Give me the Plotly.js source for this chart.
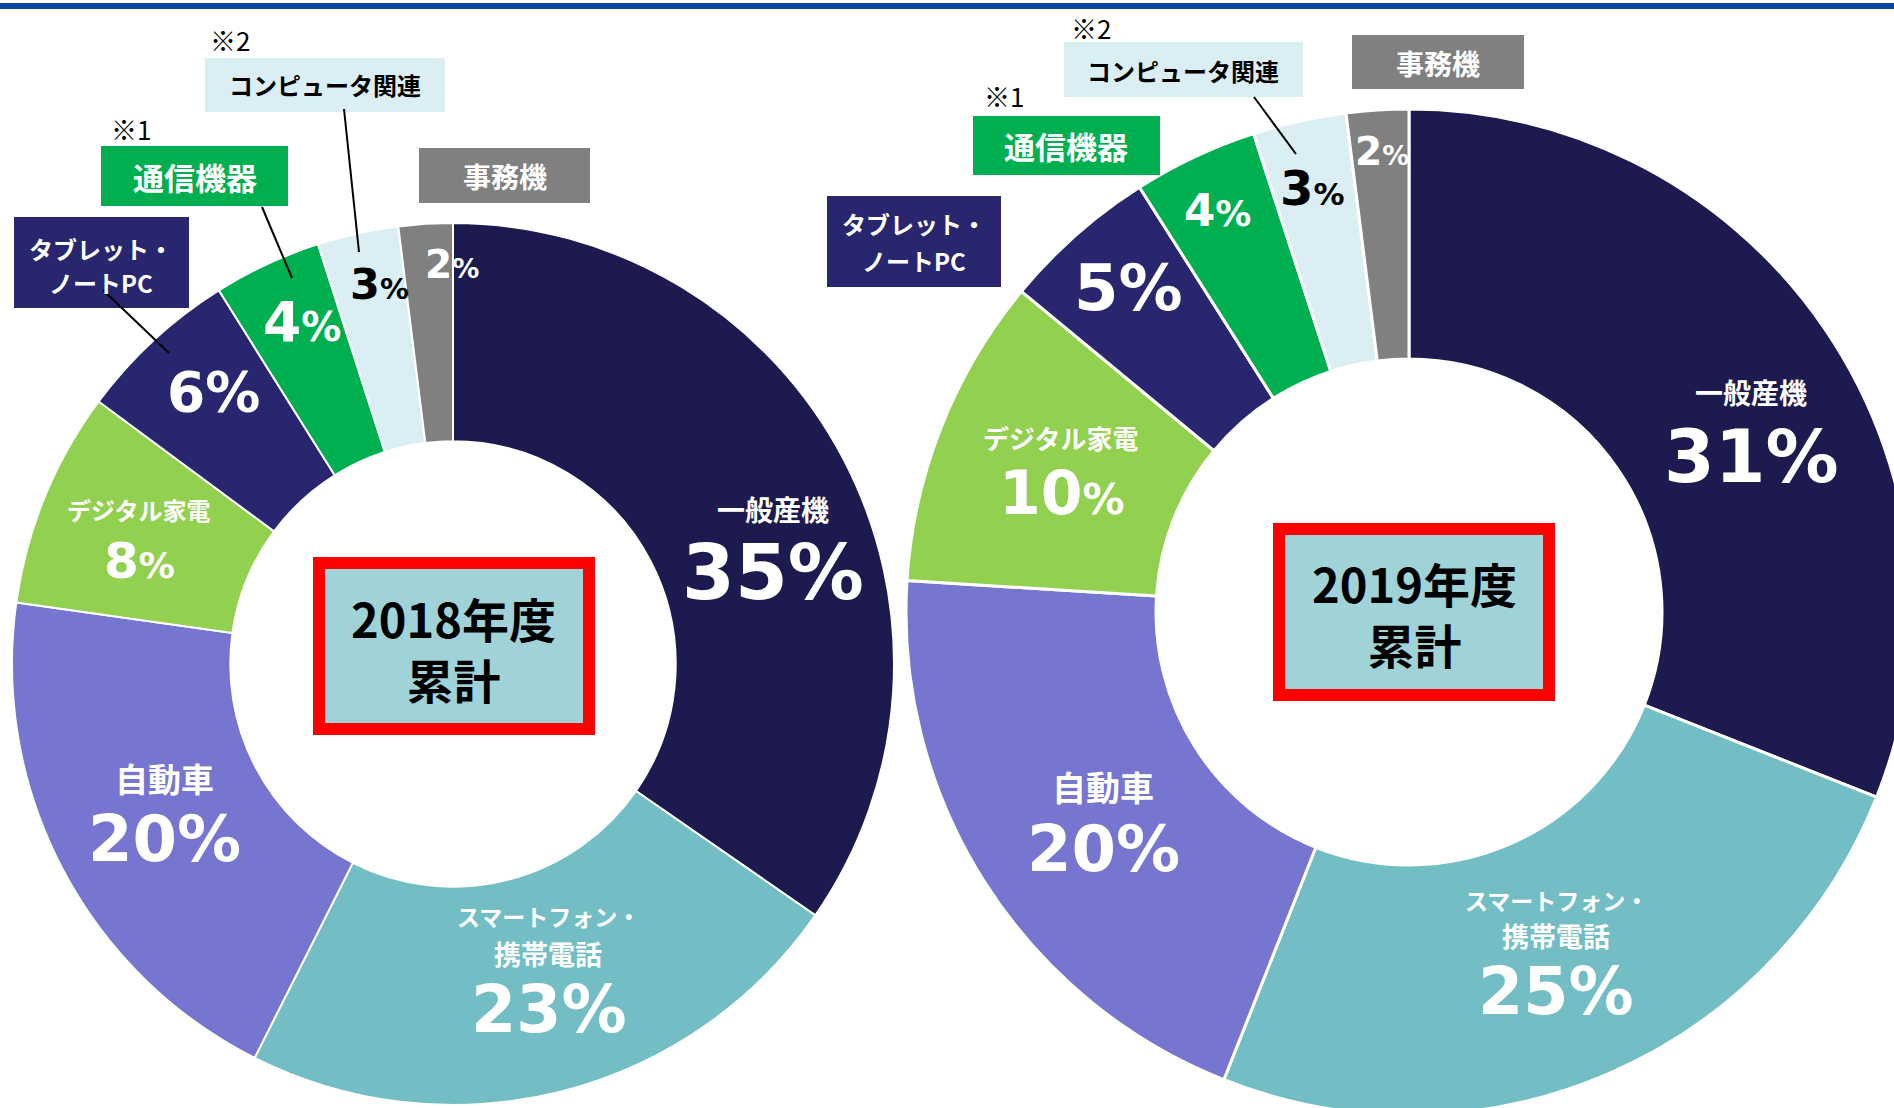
<!DOCTYPE html>
<html><head><meta charset="utf-8">
<script src="https://cdn.plot.ly/plotly-3.0.1.min.js"></script>
<style>html,body{margin:0;padding:0;overflow:hidden;background:#fff;} #chart{width:1920px;height:1120px;}</style>
</head><body><div id="chart"></div>
<script>
// ---- data ----
const categories = ['一般産機','スマートフォン・携帯電話','自動車','デジタル家電','タブレット・ノートPC','通信機器','コンピュータ関連','事務機'];
const values2018 = [35, 23, 20, 8, 6, 4, 3, 2];
const values2019 = [31, 25, 20, 10, 5, 4, 3, 2];
const notes = ['', '', '', '', '', '※1', '※2', ''];
const yearLabels = ['2018年度', '2019年度'];
const totalLabel = '累計';

// ---- style ----
const sliceColors = ['#1c1a4e','#73bec4','#7675cf','#92d050','#28266f','#00b050','#daeef3','#808080'];
const textColors  = ['#fff','#fff','#fff','#fff','#fff','#fff','#000','#fff'];
const W = 1920, H = 1120;
const X = px => px / W, Y = py => 1 - py / H;
const JP = '"Noto Sans CJK JP", "Noto Sans", sans-serif';
const NUM = '"DejaVu Sans", "Noto Sans CJK JP", sans-serif';

// placement (pixels): name lines [x,y,size], pct [x,y,size,pctSize], box [x0,y0,x1,y1], note [x,y], lead [x0,y0,x1,y1]
const charts = [
  { values: values2018, year: yearLabels[0], cx: 453, cy: 664, r: 441, hole: 0.505, lw: 2,
    frame: [319, 563, 589, 729], centerPos: [453, 648, 47],
    place: [
      { name: [[773, 509, 28]], pct: [773, 572, 76, 76] },
      { name: [[548, 916, 23], [548, 953, 27]], pct: [549, 1009, 65, 65] },
      { name: [[164, 778, 33]], pct: [164, 839, 64, 64] },
      { name: [[139, 510, 24]], pct: [139, 561, 50, 36] },
      { pct: [213, 392, 55, 55], box: [14, 217, 189, 308], boxLines: [[101, 248, 24], [101, 282, 24]], lead: [103, 290, 169, 353] },
      { pct: [302, 322, 55, 40], box: [101, 146, 288, 206], boxLines: [[195, 176, 31]], note: [131, 128], lead: [262, 207, 292, 278] },
      { pct: [379, 284, 43, 29], box: [205, 58, 445, 112], boxLines: [[325, 85, 24]], note: [230, 40], lead: [344, 109, 359, 252] },
      { pct: [452, 264, 39, 27], box: [419, 148, 590, 203], boxLines: [[505, 176, 28]] }
    ] },
  { values: values2019, year: yearLabels[1], cx: 1409, cy: 612, r: 503, hole: 0.503, lw: 3,
    frame: [1279, 529, 1549, 695], centerPos: [1414, 613, 47],
    place: [
      { name: [[1751, 392, 28]], pct: [1751, 456, 73, 73] },
      { name: [[1556, 900, 23], [1556, 935, 27]], pct: [1556, 991, 65, 65] },
      { name: [[1103, 787, 34]], pct: [1103, 849, 64, 64] },
      { name: [[1060, 437, 26]], pct: [1062, 493, 60, 42] },
      { pct: [1128, 288, 64, 64], box: [827, 196, 1001, 287], boxLines: [[914, 224, 24], [914, 260, 24]] },
      { pct: [1217, 210, 45, 36], box: [973, 116, 1160, 175], boxLines: [[1066, 146, 31]], note: [1004, 95] },
      { pct: [1312, 188, 48, 31], box: [1064, 42, 1303, 97], boxLines: [[1183, 70, 24]], note: [1091, 27], lead: [1254, 97, 1296, 154] },
      { pct: [1382, 152, 39, 27], box: [1352, 35, 1524, 89], boxLines: [[1438, 63, 28]] }
    ] }
];

function ann(x, y, text, size, color, family, weight) {
  return { xref: 'paper', yref: 'paper', x: X(x), y: Y(y), xanchor: 'center', yanchor: 'middle',
           text: text, showarrow: false, font: { size: size, color: color, family: family, weight: weight } };
}
function splitName(n) { return n.split(/(?<=・)/); }

const traces = [], annotations = [], shapes = [];
shapes.push({ type: 'rect', xref: 'paper', yref: 'paper', x0: 0, x1: 1, y0: Y(9), y1: Y(3), fillcolor: '#0c449c', line: { width: 0 } });

charts.forEach(c => {
  traces.push({
    type: 'pie', labels: categories, values: c.values, hole: c.hole, sort: false,
    direction: 'clockwise', rotation: 0, textinfo: 'none', showlegend: false,
    hoverinfo: 'label+percent',
    marker: { colors: sliceColors, line: { color: '#ffffff', width: c.lw } },
    domain: { x: [X(c.cx - c.r), X(c.cx + c.r)], y: [Y(c.cy + c.r), Y(c.cy - c.r)] }
  });
  // center frame
  shapes.push({ type: 'rect', xref: 'paper', yref: 'paper', x0: X(c.frame[0]), x1: X(c.frame[2]),
    y0: Y(c.frame[3]), y1: Y(c.frame[1]), fillcolor: '#9fd3d8', line: { color: '#ff0000', width: 12 } });
  annotations.push(ann(c.centerPos[0], c.centerPos[1], '<b>' + c.year + '<br>' + totalLabel + '</b>', c.centerPos[2], '#000', JP, 700));

  c.place.forEach((p, i) => {
    const col = textColors[i];
    const v = c.values[i];
    const pctText = p.pct[3] === p.pct[2] ? v + '%' : v + '<span style="font-size:' + p.pct[3] + 'px">%</span>';
    annotations.push(ann(p.pct[0], p.pct[1], pctText, p.pct[2], col, NUM, 700));
    const lines = splitName(categories[i]);
    if (p.name) {
      p.name.forEach((ln, k) => annotations.push(ann(ln[0], ln[1], lines[k], ln[2], col, JP, 700)));
    }
    if (p.box) {
      shapes.push({ type: 'rect', xref: 'paper', yref: 'paper', x0: X(p.box[0]), x1: X(p.box[2]),
        y0: Y(p.box[3]), y1: Y(p.box[1]), fillcolor: sliceColors[i], line: { width: 0 } });
      p.boxLines.forEach((ln, k) => annotations.push(ann(ln[0], ln[1], lines[k], ln[2], col, JP, 700)));
    }
    if (p.note) annotations.push(ann(p.note[0], p.note[1], notes[i], 26, '#000', JP, 400));
    if (p.lead) shapes.push({ type: 'line', xref: 'paper', yref: 'paper', x0: X(p.lead[0]), y0: Y(p.lead[1]),
        x1: X(p.lead[2]), y1: Y(p.lead[3]), line: { color: '#000', width: 2 } });
  });
});

Plotly.newPlot('chart', traces, {
  width: W, height: H, margin: { l: 0, r: 0, t: 0, b: 0 },
  paper_bgcolor: '#fff', plot_bgcolor: '#fff',
  shapes: shapes, annotations: annotations, showlegend: false
}, { displayModeBar: false, staticPlot: true });
</script></body></html>
